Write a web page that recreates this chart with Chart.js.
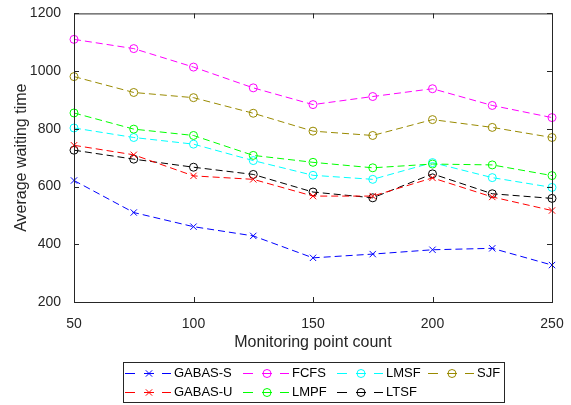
<!DOCTYPE html>
<html>
<head>
<meta charset="utf-8">
<script src="https://cdn.jsdelivr.net/npm/chart.js@4"></script>
<style>
	html, body { margin: 0; padding: 0; background: #fff; }
</style>
</head>
<body>
<canvas id="js_chart_canvas" width="571" height="405"></canvas>
<script>

// Data
const pointCounts = [ 50, 75, 100, 125, 150, 175, 200, 225, 250 ]
const gabasS = [ 621, 510, 461, 429, 353, 366, 381, 386, 328 ]
const gabasU = [ 743, 710, 637, 625, 567, 567, 630, 564, 517 ]
const fcfs   = [ 1110, 1078, 1014, 942, 884, 912, 939, 881, 839 ]
const lmpf   = [ 855, 799, 777, 708, 684, 665, 678, 675, 638 ]
const lmsf   = [ 803, 770, 747, 690, 639, 625, 683, 631, 597 ]
const ltsf   = [ 726, 695, 667, 642, 581, 561, 644, 575, 559 ]
const sjf    = [ 981, 926, 908, 854, 792, 777, 832, 805, 770 ]

const xTicks = [ 50, 100, 150, 200, 250 ]
const yTicks = [ 200, 400, 600, 800, 1000, 1200 ]

const axisColor = "#262626"
const fontFamily = "'Liberation Sans', Arial, sans-serif"

function series ( label, values, color, marker ) {
	return {
		label: label,
		data: values.map( ( v, i ) => ( { x: pointCounts[ i ], y: v } ) ),
		borderColor: color,
		backgroundColor: "rgba(0,0,0,0)",
		borderWidth: 1,
		borderDash: [ 7, 4 ],
		pointStyle: marker,
		pointRadius: marker === "crossRot" ? 4.5 : 4,
		pointBorderColor: color,
		pointBackgroundColor: "rgba(0,0,0,0)",
		pointBorderWidth: 1,
		tension: 0,
		clip: false
	}
}

// MATLAB legend fills column by column
let datasets = [
	series( "GABAS-S", gabasS, "#0000ff", "crossRot" ),
	series( "GABAS-U", gabasU, "#ff0000", "crossRot" ),
	series( "FCFS", fcfs, "#ff00ff", "circle" ),
	series( "LMPF", lmpf, "#00ff00", "circle" ),
	series( "LMSF", lmsf, "#00ffff", "circle" ),
	series( "LTSF", ltsf, "#000000", "circle" ),
	series( "SJF", sjf, "#998a00", "circle" )
]

/*
 |
 | Box round the plot with inward ticks on all four sides
 |
 */
const framePlugin = {
	id: "frame",
	afterDraw ( chart ) {
		let { ctx, chartArea: a, scales } = chart
		ctx.save()
		ctx.setLineDash( [] )
		ctx.strokeStyle = axisColor
		ctx.lineWidth = 1
		ctx.strokeRect( a.left + 0.5, a.top + 0.5, a.right - a.left, a.bottom - a.top )
		ctx.beginPath()
		xTicks.forEach( t => {
			let px = Math.round( scales.x.getPixelForValue( t ) ) + 0.5
			ctx.moveTo( px, a.bottom ); ctx.lineTo( px, a.bottom - 5 )
			ctx.moveTo( px, a.top ); ctx.lineTo( px, a.top + 5 )
		} )
		yTicks.forEach( t => {
			let py = Math.round( scales.y.getPixelForValue( t ) ) + 0.5
			ctx.moveTo( a.left, py ); ctx.lineTo( a.left + 5, py )
			ctx.moveTo( a.right, py ); ctx.lineTo( a.right - 5, py )
		} )
		ctx.stroke()
		ctx.restore()
	}
}

/*
 |
 | Legend in the MATLAB style: dash, marker, dash, label
 |
 */
const legendColumns = [ 125, 243, 337, 428 ]
const legendRows = [ 373, 392 ]
const legendPlugin = {
	id: "matlabLegend",
	afterDraw ( chart ) {
		let ctx = chart.ctx
		ctx.save()
		ctx.setLineDash( [] )
		ctx.strokeStyle = axisColor
		ctx.lineWidth = 1
		ctx.strokeRect( 123.5, 362.5, 381, 40 )
		chart.data.datasets.forEach( ( ds, i ) => {
			let x = legendColumns[ Math.floor( i / 2 ) ]
			let y = legendRows[ i % 2 ] + 0.5
			ctx.strokeStyle = ds.borderColor
			ctx.fillStyle = "rgba(0,0,0,0)"
			ctx.lineWidth = 1
			ctx.beginPath()
			ctx.moveTo( x, y ); ctx.lineTo( x + 10, y )
			ctx.moveTo( x + 19, y ); ctx.lineTo( x + 29, y )
			ctx.moveTo( x + 37, y ); ctx.lineTo( x + 46, y )
			ctx.stroke()
			Chart.helpers.drawPoint( ctx, {
				pointStyle: ds.pointStyle,
				radius: ds.pointRadius,
				borderWidth: 1,
				rotation: 0
			}, x + 24, y )
			ctx.fillStyle = "#000"
			ctx.font = "13px " + fontFamily
			ctx.textBaseline = "middle"
			ctx.fillText( ds.label, x + 49, y )
		} )
		ctx.restore()
	}
}

let chartConfig = {
	type: "line",
	data: { datasets: datasets },
	options: {
		responsive: false,
		animation: false,
		layout: { padding: { left: 0, top: 13, right: 19, bottom: 53 } },
		scales: {
			x: {
				type: "linear",
				min: 50,
				max: 250,
				afterBuildTicks ( scale ) { scale.ticks = xTicks.map( v => ( { value: v } ) ) },
				afterFit ( scale ) { scale.height = 50 },
				grid: { display: false },
				border: { display: false },
				ticks: {
					color: axisColor,
					padding: 6,
					maxRotation: 0,
					callback: value => String( value ),
					font: { family: fontFamily, size: 14 }
				},
				title: {
					display: true,
					text: "Monitoring point count",
					color: axisColor,
					padding: { top: 1, bottom: 0 },
					font: { family: fontFamily, size: 16 }
				}
			},
			y: {
				type: "linear",
				min: 200,
				max: 1200,
				afterBuildTicks ( scale ) { scale.ticks = yTicks.map( v => ( { value: v } ) ) },
				afterFit ( scale ) { scale.width = 74 },
				grid: { display: false },
				border: { display: false },
				ticks: {
					color: axisColor,
					padding: 5,
					callback: value => String( value ),
					font: { family: fontFamily, size: 14 }
				},
				title: {
					display: true,
					text: "Average waiting time",
					color: axisColor,
					padding: { top: 12, bottom: 0 },
					font: { family: fontFamily, size: 16 }
				}
			}
		},
		plugins: {
			legend: { display: false },
			tooltip: { enabled: false }
		}
	},
	plugins: [ framePlugin, legendPlugin ]
}

let chart = new Chart( document.getElementById( "js_chart_canvas" ), chartConfig )

</script>
</body>
</html>
